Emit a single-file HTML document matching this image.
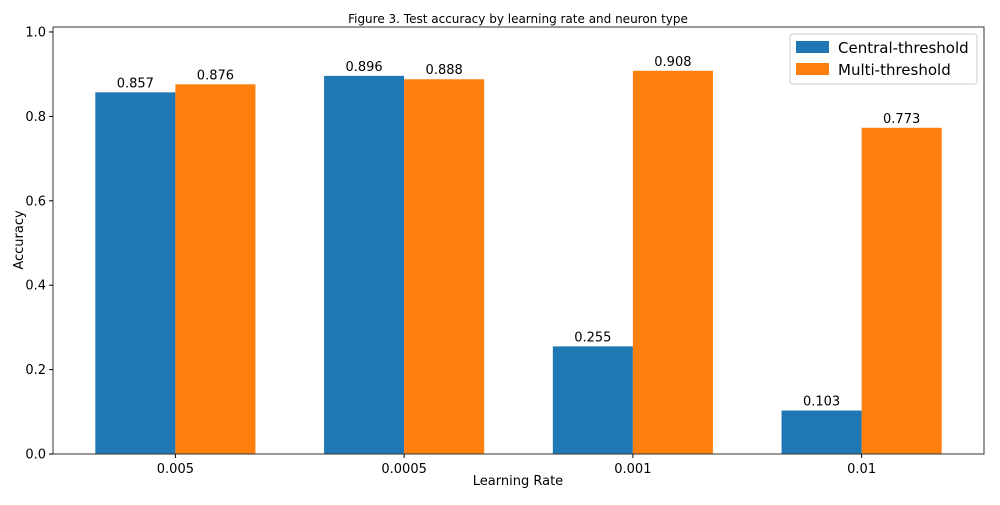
<!DOCTYPE html>
<html><head><meta charset="utf-8"><style>
body{margin:0;background:#fff;}
svg text{font-family:"DejaVu Sans","Liberation Sans",sans-serif;fill:#000;}
</style></head><body>
<svg id="chart" width="1000" height="500" xmlns="http://www.w3.org/2000/svg"></svg>
<script>
const categories = ["0.005","0.0005","0.001","0.01"];
const centralValues = [0.857,0.896,0.255,0.103];
const multiValues = [0.876,0.888,0.908,0.773];
const yTicks = [0.0,0.2,0.4,0.6,0.8,1.0];
const seriesNames = ["Central-threshold","Multi-threshold"];

const svg = document.getElementById('chart');
const NS = "http://www.w3.org/2000/svg";
const L=53,R=984,T=27,B=454;
const xMin=-0.535,xMax=3.535,yMax=1.0118,barW=0.35;
const xs = v => L + (v-xMin)/(xMax-xMin)*(R-L);
const ys = v => B - v/yMax*(B-T);
function mk(tag, attrs, parent){const e=document.createElementNS(NS,tag);for(const k in attrs)e.setAttribute(k,attrs[k]);(parent||svg).appendChild(e);return e;}

let t = mk('text',{x:518,y:23,'font-size':12,'text-anchor':'middle'});


t.textContent='Figure 3. Test accuracy by learning rate and neuron type';

const colors=['#1f77b4','#ff7f0e'];
[centralValues,multiValues].forEach((vals,s)=>{
  vals.forEach((v,i)=>{
    const x0 = xs(i - barW + s*barW), x1 = xs(i + s*barW);
    const r = mk('rect',{x:x0,y:ys(v),width:x1-x0,height:B-ys(v),fill:colors[s]});
    
    
    const lb = mk('text',{x:(x0+x1)/2,y:ys(v)-5,'font-size':13,'text-anchor':'middle'});
    
    
    lb.textContent=v.toFixed(3);
  });
});

const frame = mk('rect',{x:L,y:T,width:R-L,height:B-T,fill:'none',stroke:'#333','stroke-width':1});



yTicks.forEach(v=>{
  const y=ys(v);
  mk('line',{x1:L-4,x2:L,y1:y,y2:y,stroke:'#000'});
  const tl=mk('text',{x:L-7,y:y+4.5,'font-size':13,'text-anchor':'end'});
  
  
  tl.textContent=v.toFixed(1);
});
categories.forEach((c,i)=>{
  const x=xs(i);
  mk('line',{x1:x,x2:x,y1:B,y2:B+4,stroke:'#000'});
  const tl=mk('text',{x:x,y:B+19,'font-size':13,'text-anchor':'middle'});
  
  
  tl.textContent=c;
});

let xt=mk('text',{x:518,y:485,'font-size':13,'text-anchor':'middle'});


xt.textContent='Learning Rate';
let yt=mk('text',{x:23,y:240,'font-size':13,'text-anchor':'middle',transform:'rotate(-90 23 240)'});


yt.textContent='Accuracy';

const lg=mk('g',{});


mk('rect',{x:790,y:34,width:187,height:50,fill:'#fff',stroke:'#ccc',rx:3},lg);
seriesNames.forEach((n,i)=>{
  const y=40+i*22;
  const sw=mk('rect',{x:796,y:y+1,width:33,height:12,fill:colors[i]},lg);
  
  
  const lt=mk('text',{x:838,y:y+13,'font-size':15},lg);
  
  
  lt.textContent=n;
});
</script>
</body></html>
